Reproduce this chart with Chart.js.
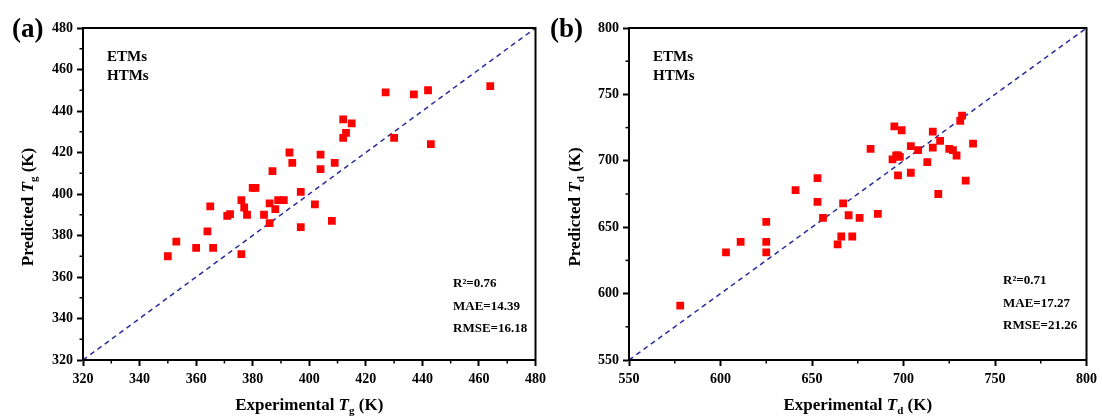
<!DOCTYPE html>
<html lang="en">
<head>
    <meta charset="UTF-8">
    <title>Predicted vs Experimental Tg / Td</title>
    <script src="https://cdn.jsdelivr.net/npm/chart.js"></script>
    <style>
        body { margin: 0; background: #fff; }
        .panel { position: absolute; top: 0; height: 417px; }
        #boxA { left: 0; width: 551px; }
        #boxB { left: 540px; width: 562px; }
    </style>
</head>
<body>
    <div class="panel" id="boxA"><canvas id="chartA"></canvas></div>
    <div class="panel" id="boxB"><canvas id="chartB"></canvas></div>
    <script>
        // (a) glass transition temperature, K
        const expTg = [350, 353, 360, 364, 365, 366, 371, 372, 376, 376, 377, 378, 380, 381, 384, 386, 386, 387, 388, 389,
                       391, 393, 394, 397, 397, 402, 404, 404, 408, 409, 412, 412, 413, 415, 427, 430, 437, 442, 443, 464];
        const predTg = [370, 377, 374, 382, 394, 374, 389.5, 390.3, 371, 397, 393.5, 390, 403, 403, 390, 395.5, 386, 411, 392.7, 397,
                        397, 420, 415, 401, 384, 395, 419, 412, 387, 415, 436, 427, 429.5, 434, 449, 427, 448, 450, 424, 452];
        const ticksA = [320, 340, 360, 380, 400, 420, 440, 460, 480];
        const minorA = [330, 350, 370, 390, 410, 430, 450, 470];
        const statsA = ['R\u00B2=0.76', 'MAE=14.39', 'RMSE=16.18'];

        // (b) decomposition temperature, K
        const expTd = [578, 603, 611, 625, 625, 625, 641, 653, 653, 656, 664, 666, 667, 670, 672, 676, 682, 686, 694, 695,
                       696, 697, 697, 698, 699, 704, 704, 708, 713, 716, 716, 719, 720, 725, 727, 729, 731, 732, 734, 738];
        const predTd = [591, 631, 639, 654, 639, 631, 678, 687, 669, 657, 637, 643, 668, 659, 643, 657, 709, 660, 701, 726,
                        704, 689, 704, 703, 723, 711, 691, 708, 699, 722, 710, 675, 715, 709, 708, 704, 730, 734, 685, 713];
        const ticksB = [550, 600, 650, 700, 750, 800];
        const minorB = [575, 625, 675, 725, 775];
        const statsB = ['R\u00B2=0.71', 'MAE=17.27', 'RMSE=21.26'];

        const SERIF = '"Liberation Serif", "Times New Roman", serif';

        // draws "Predicted T_g (K)" style text: parts = [{t, it, sub}]
        function drawRich(ctx, parts, x, y, size, angle) {
            const fontOf = p => (p.it ? 'italic ' : '') + 'bold ' + (p.sub ? Math.round(size * 0.65) : size) + 'px ' + SERIF;
            ctx.save();
            ctx.translate(x, y);
            ctx.rotate(angle);
            ctx.textAlign = 'left';
            ctx.textBaseline = 'middle';
            let w = 0;
            parts.forEach(p => { ctx.font = fontOf(p); w += ctx.measureText(p.t).width; });
            let cx = -w / 2;
            parts.forEach(p => {
                ctx.font = fontOf(p);
                ctx.fillText(p.t, cx, p.sub ? size * 0.32 : 0);
                cx += ctx.measureText(p.t).width;
            });
            ctx.restore();
        }

        function makePanel(id, cfg) {
            const lo = cfg.ticks[0], hi = cfg.ticks[cfg.ticks.length - 1];

            const deco = {
                id: 'deco',
                afterDraw(chart) {
                    const ctx = chart.ctx, a = chart.chartArea;
                    const sx = chart.scales.x, sy = chart.scales.y;
                    ctx.save();
                    ctx.strokeStyle = '#000';
                    // minor ticks
                    ctx.lineWidth = 1.5;
                    cfg.minor.forEach(v => {
                        const px = sx.getPixelForValue(v), py = sy.getPixelForValue(v);
                        ctx.beginPath(); ctx.moveTo(px, a.bottom); ctx.lineTo(px, a.bottom + 3.5); ctx.stroke();
                        ctx.beginPath(); ctx.moveTo(a.left, py); ctx.lineTo(a.left - 3.5, py); ctx.stroke();
                    });
                    // box frame
                    ctx.lineWidth = 2;
                    ctx.strokeRect(a.left, a.top, a.right - a.left, a.bottom - a.top);

                    ctx.fillStyle = '#000';
                    ctx.textBaseline = 'alphabetic';
                    ctx.textAlign = 'left';
                    ctx.font = 'bold 27px ' + SERIF;
                    ctx.fillText(cfg.tag, cfg.tagX, 37);

                    ctx.font = 'bold 15px ' + SERIF;
                    ctx.fillText('ETMs', a.left + 24, 61);
                    ctx.fillText('HTMs', a.left + 24, 80);

                    ctx.font = 'bold 13px ' + SERIF;
                    cfg.stats.forEach((s, i) => ctx.fillText(s, cfg.statX, cfg.statY + i * 22.5));

                    drawRich(ctx, [{t: 'Predicted '}, {t: 'T', it: true}, {t: cfg.sub, sub: true}, {t: ' (K)'}],
                        cfg.yTitleX, 207, 17, -Math.PI / 2);
                    drawRich(ctx, [{t: 'Experimental '}, {t: 'T', it: true}, {t: cfg.sub, sub: true}, {t: ' (K)'}],
                        (a.left + a.right) / 2, 406, 17, 0);
                    ctx.restore();
                }
            };

            const axis = (ticks, fit, pad) => ({
                type: 'linear',
                min: lo,
                max: hi,
                afterBuildTicks: s => { s.ticks = ticks.map(v => ({ value: v })); },
                afterFit: fit,
                border: { display: true, color: '#000', width: 2 },
                grid: { drawOnChartArea: false, drawTicks: true, tickLength: 6, tickWidth: 2, tickColor: '#000' },
                ticks: {
                    autoSkip: false,
                    maxRotation: 0,
                    padding: pad,
                    color: '#000',
                    font: { family: SERIF, weight: 'bold', size: 14 }
                }
            });

            new Chart(document.getElementById(id), {
                type: 'scatter',
                data: {
                    datasets: [
                        {
                            data: cfg.exp.map((x, i) => ({ x: x, y: cfg.pred[i] })),
                            pointStyle: 'rect',
                            pointRadius: 5.5,
                            pointHoverRadius: 5.5,
                            pointBorderWidth: 0,
                            backgroundColor: '#ff0000',
                            borderColor: '#ff0000'
                        },
                        {
                            // y = x reference line
                            data: [{ x: lo, y: lo }, { x: hi, y: hi }],
                            showLine: true,
                            borderColor: '#2a2a9c',
                            borderWidth: 1.5,
                            borderDash: [5, 4],
                            pointRadius: 0
                        }
                    ]
                },
                options: {
                    responsive: true,
                    maintainAspectRatio: false,
                    animation: false,
                    layout: { padding: { left: 0, right: cfg.padRight, top: 28, bottom: 0 } },
                    scales: {
                        x: axis(cfg.ticks, s => { s.height = 57; }, 5),
                        y: axis(cfg.ticks, s => { s.width = cfg.yWidth; }, 4)
                    },
                    plugins: { legend: { display: false }, tooltip: { enabled: false } }
                },
                plugins: [deco]
            });
        }

        makePanel('chartA', {
            exp: expTg, pred: predTg, ticks: ticksA, minor: minorA, stats: statsA,
            tag: '(a)', tagX: 12, sub: 'g', yWidth: 83, padRight: 13,
            statX: 453, statY: 287, yTitleX: 29
        });
        makePanel('chartB', {
            exp: expTd, pred: predTd, ticks: ticksB, minor: minorB, stats: statsB,
            tag: '(b)', tagX: 10, sub: 'd', yWidth: 89, padRight: 14,
            statX: 463, statY: 284, yTitleX: 36
        });
    </script>
</body>
</html>
